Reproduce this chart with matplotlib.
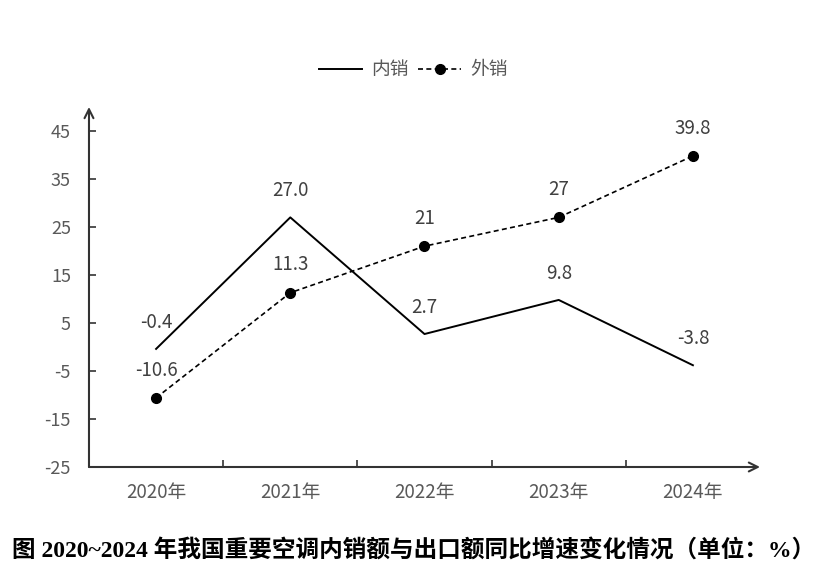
import matplotlib.pyplot as plt
import numpy as np

plt.rcParams['font.family'] = ['Noto Sans CJK SC', 'DejaVu Sans']

# Data
years = ['2020年', '2021年', '2022年', '2023年', '2024年']
domestic = [-0.4, 27.0, 2.7, 9.8, -3.8]
domestic_labels = ['-0.4', '27.0', '2.7', '9.8', '-3.8']
export = [-10.6, 11.3, 21, 27, 39.8]
export_labels = ['-10.6', '11.3', '21', '27', '39.8']
y_ticks = [-25, -15, -5, 5, 15, 25, 35, 45]

fig = plt.figure(figsize=(8.27, 5.82), dpi=100)
ax = fig.add_axes([0.1076, 0.1976, 0.8114, 0.6186])

x = np.arange(len(years))
ax.plot(x, domestic, color='black', linewidth=1.4, label='内销')
ax.plot(x, export, color='black', linewidth=1.2, linestyle=(0, (3, 2)),
        marker='o', markersize=7, label='外销')

# Data labels
for xi, yi, txt in zip(x, domestic, domestic_labels):
    ax.annotate(txt, xy=(xi, yi), xytext=(0, 19), textcoords='offset points',
                ha='center', va='center', fontsize=13.5, color='#404040')
for xi, yi, txt in zip(x, export, export_labels):
    ax.annotate(txt, xy=(xi, yi), xytext=(0, 20), textcoords='offset points',
                ha='center', va='center', fontsize=13.5, color='#404040')

ax.set_xlim(-0.5, 4.5)
ax.set_ylim(-25, 50)

# Axes with arrows
for s in ax.spines.values():
    s.set_visible(False)
ax.annotate('', xy=(0, 1), xytext=(0, 0), xycoords='axes fraction',
            arrowprops=dict(arrowstyle='->', color='#333333', lw=1.5,
                            shrinkA=0, shrinkB=0, mutation_scale=16))
ax.annotate('', xy=(1, 0), xytext=(0, 0), xycoords='axes fraction',
            arrowprops=dict(arrowstyle='->', color='#333333', lw=1.5,
                            shrinkA=0, shrinkB=0, mutation_scale=16))

ax.set_yticks(y_ticks)
ax.set_yticklabels([str(v) for v in y_ticks])
ax.tick_params(axis='y', direction='in', length=5, width=1.2, color='#333333',
               labelsize=13, labelcolor='#595959', pad=13)

ax.set_xticks([0.5, 1.5, 2.5, 3.5])
ax.set_xticklabels([])
ax.tick_params(axis='x', which='major', direction='in', length=5, width=1.2,
               color='#333333')
ax.set_xticks(x, minor=True)
ax.set_xticklabels(years, minor=True)
ax.tick_params(axis='x', which='minor', length=0, labelsize=13.5,
               labelcolor='#595959', pad=11)

fig.legend(loc='center', bbox_to_anchor=(0.5, 0.88), ncol=2, frameon=False,
           fontsize=13.5, handlelength=2.3, columnspacing=0.5, handletextpad=0.5,
           labelcolor='#595959')

fig.text(0.5, 0.055, '图 2020~2024 年我国重要空调内销额与出口额同比增速变化情况（单位：%）',
         ha='center', va='center', fontsize=17, fontweight='bold',
         family=['Liberation Serif', 'Noto Sans CJK SC'])

fig.savefig('out.png', dpi=100, facecolor='white')
